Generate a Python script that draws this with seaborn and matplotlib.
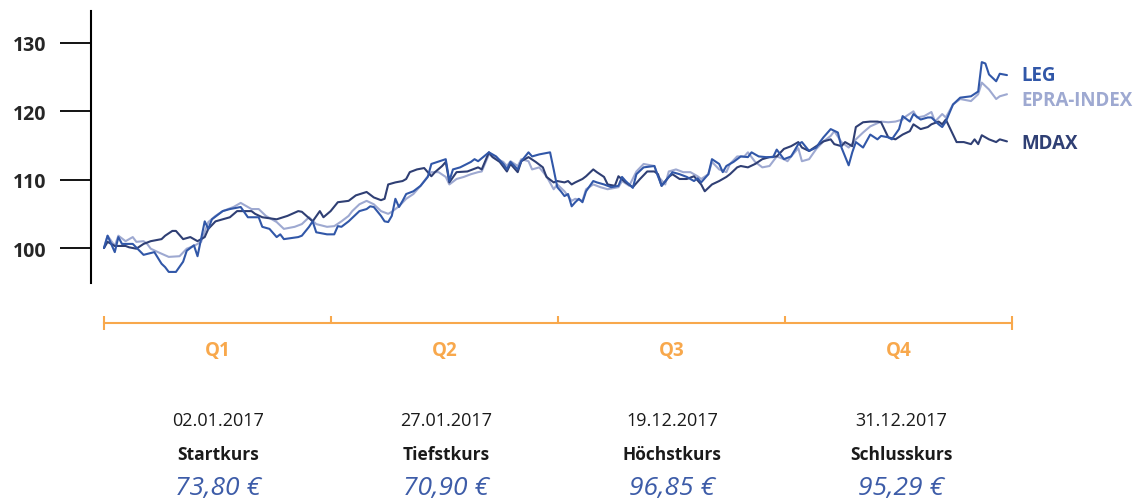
import matplotlib
matplotlib.use("Agg")
import matplotlib.pyplot as plt
import pandas as pd
import seaborn as sns

# -----------------------------
# Daten (Index, 02.01.2017 = 100), x = Handelstag
# -----------------------------
tage_leg = [0, 1, 3, 4, 5, 8, 11, 14, 16, 17, 18, 20, 22, 23, 25, 26, 28, 29, 30, 33,
            35, 38, 40, 43, 44, 46, 48, 49, 50, 54, 55, 57, 58, 59, 62, 64, 65, 66, 68, 71,
            73, 74, 75, 77, 78, 79, 80, 81, 82, 83, 84, 86, 88, 90, 91, 95, 96, 97, 99, 102,
            103, 104, 107, 109, 111, 112, 113, 115, 116, 118, 119, 121, 124, 125, 126, 127, 128, 129, 130, 131,
            132, 133, 134, 136, 137, 139, 141, 143, 144, 145, 147, 148, 150, 153, 154, 155, 157, 158, 160, 162,
            164, 165, 166, 168, 169, 171, 172, 173, 175, 177, 179, 180, 182, 184, 186, 187, 189, 191, 193, 194,
            196, 198, 199, 200, 202, 204, 205, 206, 207, 208, 209, 211, 213, 215, 216, 218, 219, 221, 222, 224,
            225, 227, 229, 230, 232, 233, 234, 236, 238, 241, 243, 244, 245, 246, 248, 249, 251]
leg = [100.0, 101.8, 99.4, 101.6, 100.6, 100.6, 99.0, 99.4, 97.7, 97.2, 96.5, 96.5, 98.0, 99.6, 100.4, 98.8, 103.9, 102.8, 104.2, 105.4,
       105.7, 106.0, 104.5, 104.5, 103.1, 102.8, 101.6, 102.0, 101.3, 101.6, 101.8, 103.1, 103.9, 102.3, 102.0, 102.0, 103.2, 103.1, 103.9, 105.4,
       105.7, 106.1, 106.0, 104.7, 103.9, 103.8, 104.7, 107.2, 106.0, 106.9, 107.9, 108.3, 109.1, 110.4, 112.3, 113.0, 109.8, 111.5, 111.8, 112.6,
       113.0, 112.7, 114.0, 113.4, 112.3, 111.5, 112.6, 111.5, 112.7, 114.0, 113.4, 113.7, 114.0, 111.5, 108.9, 108.3, 107.6, 107.9, 106.1, 106.7,
       107.2, 106.7, 108.3, 109.8, 109.6, 109.3, 108.9, 109.1, 110.4, 109.8, 108.8, 110.8, 111.8, 112.0, 110.5, 109.1, 110.4, 111.1, 110.8, 110.4,
       109.8, 110.2, 109.6, 110.8, 113.0, 112.3, 111.1, 112.0, 112.6, 113.4, 113.3, 114.0, 113.4, 113.3, 113.3, 114.4, 113.0, 113.4, 115.2, 115.5,
       114.2, 114.7, 115.5, 116.2, 117.4, 116.9, 114.7, 113.4, 112.1, 114.0, 115.5, 114.7, 116.6, 115.9, 116.4, 116.2, 115.9, 117.4, 119.3, 118.5,
       119.6, 118.8, 119.1, 119.1, 118.1, 117.7, 118.5, 121.0, 122.0, 122.2, 122.9, 127.2, 127.0, 125.4, 124.4, 125.5, 125.3]

tage_epra = [0, 1, 3, 4, 6, 8, 9, 11, 12, 13, 15, 18, 21, 23, 25, 27, 29, 31, 33, 36,
             38, 41, 43, 45, 48, 50, 53, 55, 57, 59, 62, 64, 66, 68, 69, 71, 73, 75, 77, 79,
             80, 82, 84, 86, 88, 90, 91, 93, 95, 96, 98, 100, 102, 104, 105, 107, 109, 111, 112, 113,
             115, 116, 118, 119, 121, 123, 125, 126, 128, 130, 131, 133, 134, 136, 138, 140, 143, 144, 146, 148,
             150, 153, 154, 156, 157, 159, 161, 163, 165, 166, 168, 169, 171, 173, 174, 176, 178, 179, 181, 183,
             185, 187, 189, 190, 191, 193, 194, 196, 198, 200, 202, 203, 205, 207, 209, 211, 213, 216, 218, 220,
             222, 223, 225, 226, 228, 230, 231, 233, 234, 236, 238, 241, 243, 244, 246, 248, 249, 251]
epra = [100.0, 101.8, 100.3, 101.8, 101.0, 101.6, 100.9, 101.0, 100.6, 99.9, 99.4, 98.7, 98.8, 99.9, 100.3, 100.9, 103.8, 104.7, 105.4, 106.0,
        106.6, 105.7, 105.7, 104.7, 103.8, 102.8, 103.1, 103.5, 104.5, 103.5, 103.1, 103.2, 103.9, 104.7, 105.4, 106.4, 106.9, 106.4, 105.4, 105.0,
        105.3, 106.1, 107.2, 107.9, 109.1, 110.5, 111.1, 111.1, 110.4, 109.3, 110.1, 110.4, 110.8, 111.1, 111.2, 113.7, 113.1, 112.6, 112.0, 112.7,
        112.0, 113.0, 112.7, 111.5, 111.8, 110.5, 108.6, 109.3, 108.3, 106.9, 107.2, 106.9, 108.6, 109.3, 108.9, 108.6, 108.9, 109.8, 109.1, 111.2,
        112.3, 112.0, 110.5, 109.3, 111.2, 111.5, 111.1, 111.1, 110.5, 110.1, 110.8, 112.6, 111.5, 111.1, 112.3, 113.4, 113.4, 114.0, 112.6, 111.8,
        112.0, 113.4, 113.0, 112.7, 113.4, 114.6, 112.7, 113.0, 114.5, 115.6, 116.4, 117.1, 115.5, 114.7, 115.9, 116.9, 117.8, 118.5, 118.4, 118.5,
        118.8, 119.3, 120.0, 119.1, 119.3, 119.9, 118.5, 119.6, 119.1, 121.0, 121.8, 121.5, 122.5, 124.2, 123.2, 121.8, 122.2, 122.5]

tage_mdax = [0, 1, 3, 6, 7, 9, 11, 13, 16, 17, 19, 20, 22, 24, 26, 28, 29, 31, 35, 37,
             41, 42, 44, 48, 51, 54, 55, 58, 60, 61, 63, 65, 68, 70, 73, 75, 77, 78, 79, 81,
             83, 84, 85, 87, 89, 90, 91, 92, 94, 95, 96, 98, 101, 104, 105, 107, 108, 110, 112, 113,
             115, 116, 118, 120, 122, 123, 125, 126, 128, 129, 130, 131, 133, 134, 136, 137, 139, 140, 142, 143,
             145, 147, 149, 151, 153, 154, 155, 157, 158, 160, 162, 164, 166, 167, 169, 171, 173, 174, 176, 177,
             179, 181, 183, 185, 187, 189, 191, 193, 194, 196, 198, 200, 202, 203, 205, 206, 208, 209, 211, 213,
             215, 216, 218, 220, 222, 224, 225, 227, 229, 230, 232, 233, 234, 236, 237, 239, 241, 242, 243, 244,
             246, 248, 249, 251]
mdax = [100.0, 100.9, 100.3, 100.3, 100.1, 99.9, 100.6, 101.0, 101.3, 101.8, 102.5, 102.5, 101.3, 101.6, 101.0, 101.6, 102.8, 103.9, 104.5, 105.4,
        105.4, 105.0, 104.5, 104.2, 104.7, 105.4, 105.3, 103.9, 105.4, 104.5, 105.4, 106.7, 106.9, 107.7, 108.2, 107.4, 107.0, 107.2, 109.3, 109.6,
        109.8, 110.1, 111.1, 111.5, 111.7, 111.1, 110.5, 111.1, 112.0, 112.6, 109.6, 111.1, 111.2, 111.8, 111.5, 114.0, 113.3, 112.6, 111.2, 112.3,
        111.1, 112.7, 113.3, 112.6, 111.8, 110.4, 109.6, 109.8, 109.6, 109.8, 109.3, 109.6, 110.1, 110.5, 111.5, 111.1, 110.4, 109.3, 109.1, 110.5,
        109.6, 108.9, 110.1, 111.2, 111.2, 110.8, 109.1, 110.4, 110.8, 110.1, 110.1, 110.5, 109.3, 108.3, 109.3, 109.8, 110.4, 110.8, 111.8, 112.0,
        111.8, 112.3, 113.0, 113.3, 113.4, 114.5, 114.9, 115.5, 114.7, 114.2, 114.9, 115.6, 115.9, 115.2, 114.9, 115.5, 114.9, 117.7, 118.4, 118.5,
        118.5, 118.4, 116.2, 115.9, 116.6, 117.1, 118.1, 117.4, 117.7, 118.1, 118.5, 118.1, 118.8, 116.6, 115.5, 115.5, 115.2, 115.9, 115.2, 116.5,
        115.9, 115.5, 115.9, 115.6]

reihen = ["EPRA-INDEX", "MDAX", "LEG"]
farben = {"LEG": "#3157a8", "EPRA-INDEX": "#9ea9d1", "MDAX": "#2f3f74"}

quartale = ["Q1", "Q2", "Q3", "Q4"]

daten = ["02.01.2017", "27.01.2017", "19.12.2017", "31.12.2017"]
kurs_typ = ["Startkurs", "Tiefstkurs", "Höchstkurs", "Schlusskurs"]
kurse = ["73,80 €", "70,90 €", "96,85 €", "95,29 €"]

orange = "#f8a84c"
preis_blau = "#3d5ca8"

# -----------------------------
# Grafik
# -----------------------------
sns.set_style("white")
plt.rcParams["font.family"] = ["Open Sans", "DejaVu Sans"]

df = pd.concat([
    pd.DataFrame({"tag": tage_leg, "wert": leg, "reihe": "LEG"}),
    pd.DataFrame({"tag": tage_epra, "wert": epra, "reihe": "EPRA-INDEX"}),
    pd.DataFrame({"tag": tage_mdax, "wert": mdax, "reihe": "MDAX"}),
], ignore_index=True)

W, H = 1135, 502
fig = plt.figure(figsize=(W / 100, H / 100), dpi=100)

ax = fig.add_axes([91 / W, 1 - 284 / H, 921 / W, 272 / H])
for name in reihen:
    sub = df[df["reihe"] == name]
    sns.lineplot(data=sub, x="tag", y="wert", color=farben[name], linewidth=1.5,
                 estimator=None, errorbar=None, legend=False, ax=ax)

ax.set_xlim(-3.61, 252.4)
ax.set_ylim(94.88, 134.68)
ax.set_xticks([])
ax.set_yticks([100, 110, 120, 130])
ax.set_xlabel("")
ax.set_ylabel("")
for s in ["top", "right", "bottom"]:
    ax.spines[s].set_visible(False)
ax.spines["left"].set_color("black")
ax.spines["left"].set_linewidth(1.5)
ax.tick_params(axis="y", left=True, direction="out", length=22, width=1.3,
               color="black", pad=10, labelsize=14)
for lbl in ax.get_yticklabels():
    lbl.set_fontweight("bold")

# Beschriftung am Linienende
offsets = {"LEG": 0, "EPRA-INDEX": -4, "MDAX": -1}
for name, tage, werte in [("LEG", tage_leg, leg), ("EPRA-INDEX", tage_epra, epra),
                          ("MDAX", tage_mdax, mdax)]:
    ax.annotate(name, xy=(tage[-1], werte[-1]), xytext=(10.5, offsets[name]),
                textcoords="offset points", va="center", ha="left",
                fontsize=13.5, fontweight="bold", color=farben[name],
                annotation_clip=False)

# Quartalsachse
qax = fig.add_axes([104 / W, 1 - 324 / H, 908 / W, 0.001])
qax.set_xlim(0, 4)
qax.set_ylim(0, 1)
qax.set_yticks([])
for s in ["top", "right", "left"]:
    qax.spines[s].set_visible(False)
qax.spines["bottom"].set_color(orange)
qax.spines["bottom"].set_linewidth(1.5)
qax.set_xticks([0.5, 1.5, 2.5, 3.5])
qax.set_xticklabels(quartale)
qax.set_xticks([1, 2, 3], minor=True)
qax.tick_params(axis="x", which="major", bottom=True, length=0, pad=12,
                labelsize=13.5, labelcolor=orange)
qax.tick_params(axis="x", which="minor", bottom=True, direction="in", length=5,
                width=1.5, color=orange)
for lbl in qax.get_xticklabels():
    lbl.set_fontweight("bold")
sec = qax.secondary_xaxis("bottom")
sec.set_xticks([0, 4])
sec.tick_params(bottom=True, direction="inout", length=10, width=1.5,
                color=orange, labelbottom=False)
sec.spines["bottom"].set_visible(False)

# Kennzahlen unten
spalten_x = [218, 446, 672, 901]
for xp, d, t, k in zip(spalten_x, daten, kurs_typ, kurse):
    fig.text(xp / W, 1 - 421 / H, d, ha="center", va="center", fontsize=13,
             color="#1a1a1a")
    fig.text(xp / W, 1 - 455 / H, t, ha="center", va="center", fontsize=12.5,
             fontweight="bold", color="#1a1a1a")
    fig.text(xp / W, 1 - 489 / H, k, ha="center", va="center", fontsize=19,
             fontstyle="italic", color=preis_blau)

fig.savefig("out.png", dpi=100)
plt.close(fig)
